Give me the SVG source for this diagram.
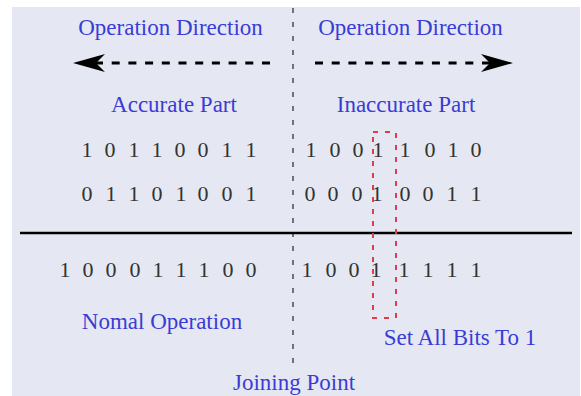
<svg xmlns="http://www.w3.org/2000/svg" width="581" height="396" viewBox="0 0 581 396">
<style>
.lbl{font-family:"Liberation Serif","Times New Roman",serif;font-size:23px;fill:#3b3bd6;text-anchor:middle}
.bits{font-family:"Liberation Serif","Times New Roman",serif;font-size:22px;fill:#333;text-anchor:middle}
.dir{stroke:#000;stroke-width:3;stroke-dasharray:8 8.7;fill:none}
.div{stroke:#333;stroke-width:1.3;stroke-dasharray:5 9;fill:none}
.rbox{stroke:#e23c4a;stroke-width:2;stroke-dasharray:5 7;fill:none}
</style>
<defs>
<marker id="stealth" viewBox="0 0 32 18" refX="9" refY="9" markerWidth="32" markerHeight="18" markerUnits="userSpaceOnUse" orient="auto">
<path d="M0,0 L32,9 L0,18 L9,9 Z" fill="#000"/>
</marker>
</defs>
<rect x="12" y="7" width="568" height="389" fill="#e5e8f2"/>
<g id="connectors">
<line class="div" x1="293" y1="8" x2="293" y2="372"/>
<line x1="20" y1="233" x2="572" y2="233" stroke="#000" stroke-width="2.5"/>
<path class="dir" d="M270,63 L96,63" marker-end="url(#stealth)"/>
<path class="dir" d="M315,63 L490,63" marker-end="url(#stealth)"/>
<rect id="setbox" class="rbox" x="373" y="132" width="23" height="186"/>
</g>
<g id="labels-top">
<text class="lbl" x="170.5" y="35">Operation Direction</text>
<text class="lbl" x="410.5" y="35">Operation Direction</text>
</g>
<g id="accurate-part">
<text class="lbl" x="174" y="112">Accurate Part</text>
<text class="bits" x="87 110 134 157 180 203 227 251" y="157">10110011</text>
<text class="bits" x="87 111 134 157 181 203 227 251" y="201">01101001</text>
</g>
<g id="inaccurate-part">
<text class="lbl" x="406" y="112">Inaccurate Part</text>
<text class="bits" x="311 335 358 378 405 430 453 476" y="157">10011010</text>
<text class="bits" x="310 333 357 377 405 428 452 476" y="201">00010011</text>
</g>
<g id="normal-operation">
<text class="bits" x="65 88 111 135 158 181 204 228 251" y="277">100011100</text>
<text class="lbl" x="162" y="329">Nomal Operation</text>
</g>
<g id="set-all-bits">
<text class="bits" x="307 331 354 376 404 428 452 476" y="277">10011111</text>
<text class="lbl" x="460" y="345">Set All Bits To 1</text>
</g>
<g id="joining-point">
<text class="lbl" x="294" y="390">Joining Point</text>
</g>
</svg>
